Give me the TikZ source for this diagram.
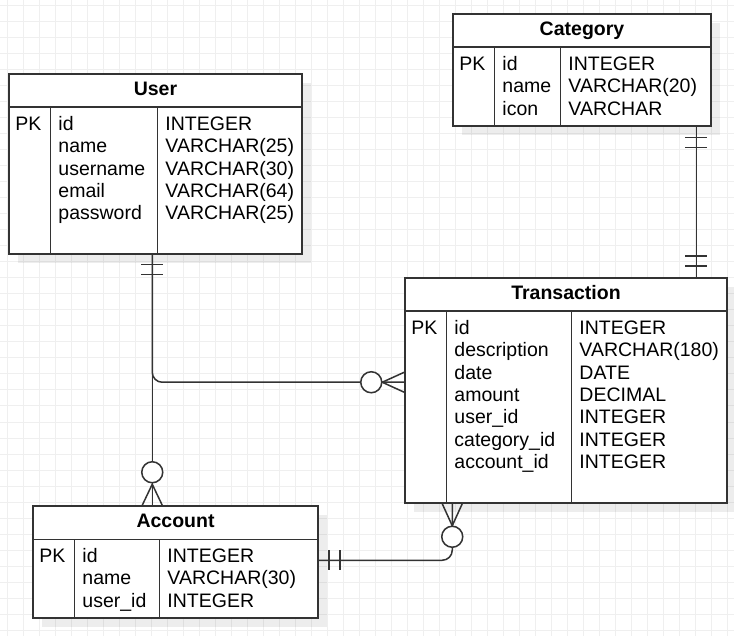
\documentclass[tikz,border=0pt]{standalone}
\usepackage{fontspec}
\setmainfont{Liberation Sans}
\usetikzlibrary{shadows}
\definecolor{gridc}{HTML}{EFEFEF}
\definecolor{linec}{HTML}{333333}

\begin{document}
\begin{tikzpicture}[x=1pt, y=-1pt,
  tbl/.style={draw=linec, line width=1.5pt, fill=white, inner sep=0pt,
    drop shadow={shadow xshift=9pt, shadow yshift=-9pt, fill=black, opacity=.07}},
  hdr/.style={font=\fontsize{19.5}{22.4}\selectfont\bfseries, inner sep=0pt, anchor=base},
  fld/.style={font=\fontsize{19.5}{22.4}\selectfont, inner sep=0pt, anchor=base west},
  conn/.style={draw=linec, line width=1.5pt},
  ring/.style={conn, fill=white}]
   \useasboundingbox (0,0) rectangle (734,636);

   % draw background grid
   \fill[white] (0,0) rectangle (734,636);
   \foreach \x in {7.5,23.5,...,727.5}
     \draw[gridc, line width=1pt] (\x,0) -- (\x,636);
   \foreach \y in {6,22,...,630}
     \draw[gridc, line width=1pt] (0,\y) -- (734,\y);

   % draw user table
   \node[tbl, minimum width=293pt, minimum height=180pt] (user) at (155.5,164) {};
   \draw[conn] ([yshift=-34pt]user.north west) -- ([yshift=-34pt]user.north east);
   \draw[conn] ([xshift=42pt,yshift=-34pt]user.north west) -- ([xshift=42pt]user.south west);
   \draw[conn] ([xshift=149pt,yshift=-34pt]user.north west) -- ([xshift=149pt]user.south west);
   \node[hdr] (user-title) at ([yshift=-22pt]user.north) {User};
   \node[fld] (user-pk) at ([xshift=7pt,yshift=-57pt]user.north west) {PK};
   \foreach \f/\t [count=\i from 0] in {id/INTEGER, name/VARCHAR(25), username/VARCHAR(30), email/VARCHAR(64), password/VARCHAR(25)} {
     \node[fld] (user-f\i) at ([xshift=50pt,yshift=-57pt-\i*22.4pt]user.north west) {\f};
     \node[fld] (user-t\i) at ([xshift=157pt,yshift=-57pt-\i*22.4pt]user.north west) {\t};
   }

   % draw category table
   \node[tbl, minimum width=258pt, minimum height=112pt] (cat) at (582,70) {};
   \draw[conn] ([yshift=-34pt]cat.north west) -- ([yshift=-34pt]cat.north east);
   \draw[conn] ([xshift=42pt,yshift=-34pt]cat.north west) -- ([xshift=42pt]cat.south west);
   \draw[conn] ([xshift=108pt,yshift=-34pt]cat.north west) -- ([xshift=108pt]cat.south west);
   \node[hdr] (cat-title) at ([yshift=-22pt]cat.north) {Category};
   \node[fld] (cat-pk) at ([xshift=7pt,yshift=-57pt]cat.north west) {PK};
   \foreach \f/\t [count=\i from 0] in {id/INTEGER, name/VARCHAR(20), icon/VARCHAR} {
     \node[fld] (cat-f\i) at ([xshift=50pt,yshift=-57pt-\i*22.4pt]cat.north west) {\f};
     \node[fld] (cat-t\i) at ([xshift=116pt,yshift=-57pt-\i*22.4pt]cat.north west) {\t};
   }

   % draw transaction table
   \node[tbl, minimum width=322pt, minimum height=225pt] (trans) at (566,390.5) {};
   \draw[conn] ([yshift=-34pt]trans.north west) -- ([yshift=-34pt]trans.north east);
   \draw[conn] ([xshift=42pt,yshift=-34pt]trans.north west) -- ([xshift=42pt]trans.south west);
   \draw[conn] ([xshift=167pt,yshift=-34pt]trans.north west) -- ([xshift=167pt]trans.south west);
   \node[hdr] (trans-title) at ([yshift=-22pt]trans.north) {Transaction};
   \node[fld] (trans-pk) at ([xshift=7pt,yshift=-57pt]trans.north west) {PK};
   \foreach \f/\t [count=\i from 0] in {id/INTEGER, description/VARCHAR(180), date/DATE, amount/DECIMAL, user\_id/INTEGER, category\_id/INTEGER, account\_id/INTEGER} {
     \node[fld] (trans-f\i) at ([xshift=50pt,yshift=-57pt-\i*22.4pt]trans.north west) {\f};
     \node[fld] (trans-t\i) at ([xshift=175pt,yshift=-57pt-\i*22.4pt]trans.north west) {\t};
   }

   % draw account table
   \node[tbl, minimum width=285pt, minimum height=112pt] (account) at (175.5,562) {};
   \draw[conn] ([yshift=-34pt]account.north west) -- ([yshift=-34pt]account.north east);
   \draw[conn] ([xshift=42pt,yshift=-34pt]account.north west) -- ([xshift=42pt]account.south west);
   \draw[conn] ([xshift=127pt,yshift=-34pt]account.north west) -- ([xshift=127pt]account.south west);
   \node[hdr] (account-title) at ([yshift=-22pt]account.north) {Account};
   \node[fld] (account-pk) at ([xshift=7pt,yshift=-57pt]account.north west) {PK};
   \foreach \f/\t [count=\i from 0] in {id/INTEGER, name/VARCHAR(30), user\_id/INTEGER} {
     \node[fld] (account-f\i) at ([xshift=50pt,yshift=-57pt-\i*22.4pt]account.north west) {\f};
     \node[fld] (account-t\i) at ([xshift=135pt,yshift=-57pt-\i*22.4pt]account.north west) {\t};
   }

   % draw user -- account
   \draw[conn] ([xshift=144pt]user.south west) -- ([xshift=120pt]account.north west);
   \foreach \d in {10,20}
     \draw[conn] ([xshift=133pt,yshift=-\d pt]user.south west) -- ++(22,0);
   \draw[conn] ([xshift=110pt]account.north west) -- ++(10,-21) -- ++(10,21);
   \draw[ring] ([xshift=120pt,yshift=33pt]account.north west) circle (10.5);

   % draw user -- transaction
   \draw[conn, rounded corners=10pt] ([xshift=144pt]user.south west) |- ([yshift=-105pt]trans.north west);
   \draw[conn] ([yshift=-95pt]trans.north west) -- ++(-22,10) -- ++(22,10);
   \draw[ring] ([xshift=-33pt,yshift=-105pt]trans.north west) circle (10.5);

   % draw transaction -- account
   \draw[conn, rounded corners=10pt] ([xshift=48pt]trans.south west) |- ([yshift=-55pt]account.north east);
   \draw[conn] ([xshift=38pt]trans.south west) -- ++(10,22) -- ++(10,-22);
   \draw[ring] ([xshift=48pt,yshift=-33pt]trans.south west) circle (10.5);
   \foreach \d in {10,21}
     \draw[conn] ([xshift=\d pt,yshift=-45pt]account.north east) -- ++(0,20);

   % draw category -- transaction
   \draw[conn] ([xshift=244pt]cat.south west) -- ([xshift=292pt]trans.north west);
   \foreach \d in {11,21} {
     \draw[conn] ([xshift=233pt,yshift=-\d pt]cat.south west) -- ++(22,0);
     \draw[conn] ([xshift=281pt,yshift=\d pt]trans.north west) -- ++(22,0);
   }
\end{tikzpicture}
\end{document}
